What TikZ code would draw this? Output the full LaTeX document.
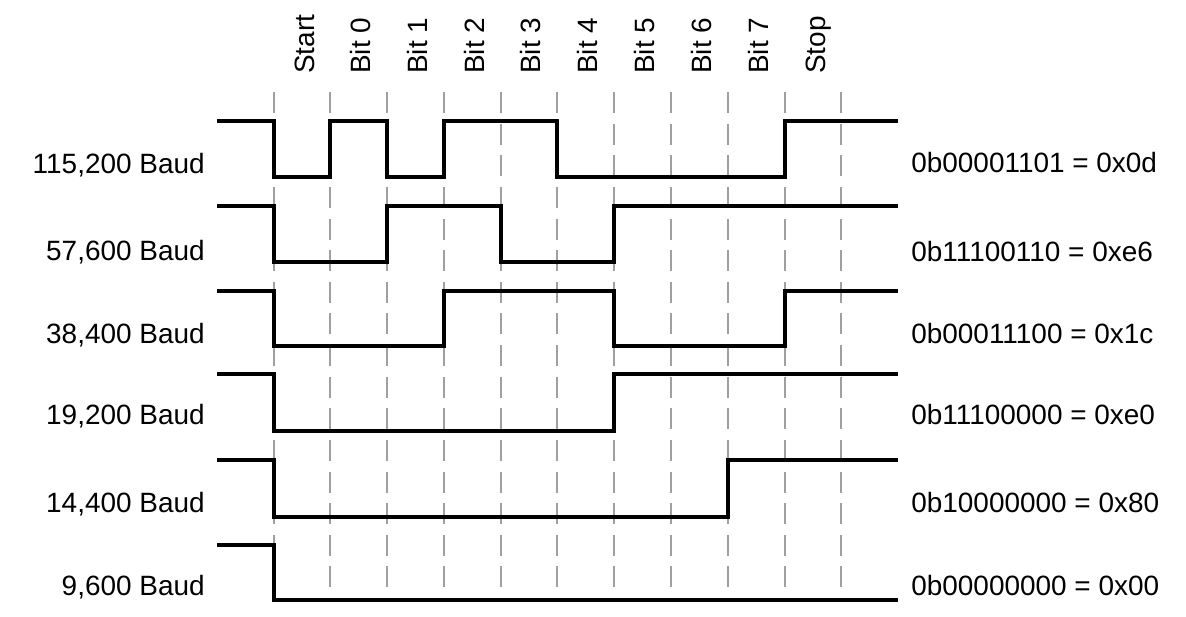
\documentclass[tikz,border=0pt]{standalone}
\usepackage{fontspec}
\setmainfont{Liberation Sans}
\usepackage{tikz}
\usetikzlibrary{positioning,calc}

\tikzset{
  wave/.style={line width=2pt, line join=miter, black},
  grid/.style={dash pattern=on 12pt off 6pt, line width=1pt, gray!75},
  baud/.style={anchor=base east, inner sep=0pt},
  value/.style={anchor=base west, inner sep=0pt},
  bitname/.style={anchor=base west, rotate=90, inner sep=0pt}
}

\begin{document}
\begin{tikzpicture}[x=0.02cm, y=-0.02cm, font=\fontsize{15.9}{18}\selectfont]
		\useasboundingbox (0,0) rectangle (1186,616);
		% bit boundaries
		\draw[grid] (274,92) -- (274,602);
		\draw[grid] (330,92) -- (330,602);
		\draw[grid] (387,92) -- (387,602);
		\draw[grid] (444,92) -- (444,602);
		\draw[grid] (501,92) -- (501,602);
		\draw[grid] (557,92) -- (557,602);
		\draw[grid] (614,92) -- (614,602);
		\draw[grid] (671,92) -- (671,602);
		\draw[grid] (728,92) -- (728,602);
		\draw[grid] (785,92) -- (785,602);
		\draw[grid] (841,92) -- (841,602);
		
		\node[bitname] (start) at (314,74) {Start};
		\node[bitname] (b0) at (370,74) {Bit 0};
		\node[bitname] (b1) at (427,74) {Bit 1};
		\node[bitname] (b2) at (484,74) {Bit 2};
		\node[bitname] (b3) at (540,74) {Bit 3};
		\node[bitname] (b4) at (597,74) {Bit 4};
		\node[bitname] (b5) at (654,74) {Bit 5};
		\node[bitname] (b6) at (711,74) {Bit 6};
		\node[bitname] (b7) at (768,74) {Bit 7};
		\node[bitname] (stop) at (825,74) {Stop};
		
		% signals
		\draw[wave] (217,121) -- (274,121) -- (274,177) -- (330,177) -- (330,121) -- (387,121) -- (387,177) -- (444,177) -- (444,121) -- (557,121) -- (557,177) -- (785,177) -- (785,121) -- (898,121);
		\draw[wave] (217,206) -- (274,206) -- (274,262) -- (387,262) -- (387,206) -- (501,206) -- (501,262) -- (614,262) -- (614,206) -- (898,206);
		\draw[wave] (217,291) -- (274,291) -- (274,346) -- (444,346) -- (444,291) -- (614,291) -- (614,346) -- (785,346) -- (785,291) -- (898,291);
		\draw[wave] (217,374) -- (274,374) -- (274,431) -- (614,431) -- (614,374) -- (898,374);
		\draw[wave] (217,460) -- (274,460) -- (274,517) -- (728,517) -- (728,460) -- (898,460);
		\draw[wave] (217,545) -- (274,545) -- (274,600) -- (898,600);
		
		\node[baud] (r1) at (205,173) {115,200 Baud};
		\node[baud] (r2) at (205,260) {57,600 Baud};
		\node[baud] (r3) at (205,343) {38,400 Baud};
		\node[baud] (r4) at (205,424) {19,200 Baud};
		\node[baud] (r5) at (205,512) {14,400 Baud};
		\node[baud] (r6) at (205,595) {9,600 Baud};
		
		\node[value] (v1) at (911,172) {0b00001101 = 0x0d};
		\node[value] (v2) at (911,261) {0b11100110 = 0xe6};
		\node[value] (v3) at (911,343) {0b00011100 = 0x1c};
		\node[value] (v4) at (911,424) {0b11100000 = 0xe0};
		\node[value] (v5) at (911,512) {0b10000000 = 0x80};
		\node[value] (v6) at (911,595) {0b00000000 = 0x00};
\end{tikzpicture}
\end{document}
